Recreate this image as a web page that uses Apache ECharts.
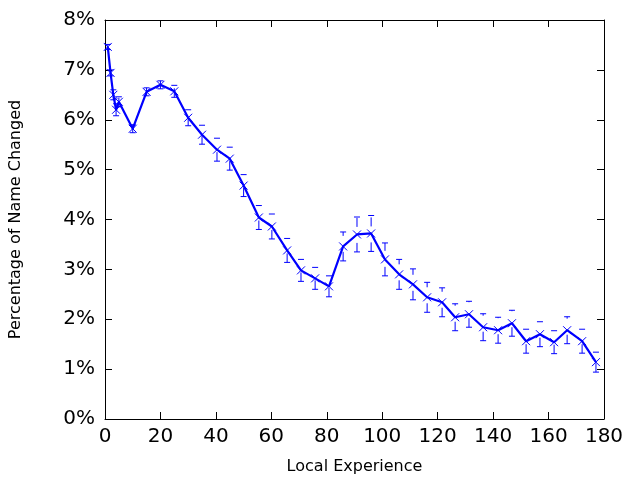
<!DOCTYPE html>
<html>
<head>
<meta charset="utf-8">
<script src="https://cdn.jsdelivr.net/npm/echarts@6/dist/echarts.min.js"></script>
<style>
    html, body { margin: 0; padding: 0; background: #fff; }
    #chart { width: 640px; height: 480px; }
</style>
</head>
<body>
<div id="chart"></div>
<script>

    // local experience (x)
    const experience = [1, 2, 3, 4, 5, 10, 15, 20, 25, 30, 35, 40.4, 45, 50, 55.5, 60.2,
        65.7, 70.7, 75.8, 80.8, 85.9, 90.9, 96, 101, 106.1, 111.1, 116.2, 121.6, 126.3,
        131.3, 136.4, 141.8, 146.8, 151.9, 156.9, 162, 166.7, 172.1, 177.1];

    // percentage of name changed
    const changed = [7.46, 6.94, 6.5, 6.2, 6.36, 5.82, 6.56, 6.7, 6.57, 6.04, 5.7, 5.4, 5.22,
        4.68, 4.04, 3.86, 3.38, 2.98, 2.82, 2.66, 3.46, 3.7, 3.72, 3.2, 2.9, 2.7, 2.44, 2.34,
        2.04, 2.1, 1.84, 1.78, 1.92, 1.56, 1.7, 1.54, 1.78, 1.56, 1.14];

    // half height of the error bars
    const error = [0.05, 0.06, 0.1, 0.12, 0.1, 0.08, 0.08, 0.08, 0.12, 0.16, 0.19, 0.23, 0.23,
        0.22, 0.24, 0.25, 0.24, 0.22, 0.22, 0.21, 0.29, 0.35, 0.36, 0.33, 0.3, 0.31, 0.3, 0.29,
        0.27, 0.26, 0.27, 0.26, 0.26, 0.24, 0.25, 0.23, 0.27, 0.24, 0.2];

    const xTicks = { min: 0, max: 180, interval: 20 };
    const yTicks = { min: 0, max: 8, interval: 1 };

    const font = 'DejaVu Sans';
    const blue = '#0000ff';

    let line_data = [];
    let bar_data = [];
    experience.forEach(function(x, i) {
        line_data.push([x, changed[i]]);
        bar_data.push([x, changed[i], changed[i] - error[i], changed[i] + error[i]]);
    });

    function axis_common(extra) {
        return Object.assign({
            type: 'value',
            splitLine: { show: false },
            axisLine: { show: true, onZero: false, lineStyle: { color: '#000', width: 1 } },
            axisTick: { show: true, inside: true, length: 7, lineStyle: { color: '#000' } },
            axisLabel: { color: '#000', fontFamily: font, fontSize: 20 }
        }, extra);
    }

    // error bars (dashed, drawn from the bottom) plus the x markers
    function render_bar(params, api) {
        let x = api.value(0);
        let mid = api.coord([x, api.value(1)]);
        let low = api.coord([x, api.value(2)]);
        let high = api.coord([x, api.value(3)]);
        let style = { stroke: blue, lineWidth: 1, fill: null };
        let w = 3, m = 4;
        return {
            type: 'group',
            children: [
                { type: 'line', shape: { x1: low[0], y1: low[1], x2: high[0], y2: high[1] },
                  style: Object.assign({ lineDash: [9, 16] }, style) },
                { type: 'line', shape: { x1: low[0] - w, y1: low[1], x2: low[0] + w, y2: low[1] }, style: style },
                { type: 'line', shape: { x1: high[0] - w, y1: high[1], x2: high[0] + w, y2: high[1] }, style: style },
                { type: 'line', shape: { x1: mid[0] - m, y1: mid[1] - m, x2: mid[0] + m, y2: mid[1] + m }, style: style, z2: 10 },
                { type: 'line', shape: { x1: mid[0] - m, y1: mid[1] + m, x2: mid[0] + m, y2: mid[1] - m }, style: style, z2: 10 }
            ]
        };
    }

    let options = {
        animation: false,
        backgroundColor: '#fff',
        grid: { left: 104, right: 36, top: 20, bottom: 60, show: false },
        xAxis: [
            axis_common(Object.assign({
                position: 'bottom',
                name: 'Local Experience',
                nameLocation: 'middle',
                nameGap: 40,
                nameTextStyle: { color: '#000', fontFamily: font, fontSize: 16 },
                axisLabel: { color: '#000', fontFamily: font, fontSize: 20, margin: 8 }
            }, xTicks)),
            axis_common(Object.assign({
                position: 'top',
                axisLabel: { show: false }
            }, xTicks))
        ],
        yAxis: [
            axis_common(Object.assign({
                position: 'left',
                name: 'Percentage of Name Changed',
                nameLocation: 'middle',
                nameGap: 81,
                nameTextStyle: { color: '#000', fontFamily: font, fontSize: 16 },
                axisLabel: { color: '#000', fontFamily: font, fontSize: 20, margin: 10, formatter: '{value}%' }
            }, yTicks)),
            axis_common(Object.assign({
                position: 'right',
                axisLabel: { show: false }
            }, yTicks))
        ],
        series: [
            {
                type: 'custom',
                renderItem: render_bar,
                data: bar_data,
                z: 2
            },
            {
                type: 'line',
                data: line_data,
                showSymbol: false,
                lineStyle: { color: blue, width: 2.2 },
                z: 3
            }
        ]
    };

    echarts.init(document.getElementById('chart')).setOption(options);

</script>
</body>
</html>
